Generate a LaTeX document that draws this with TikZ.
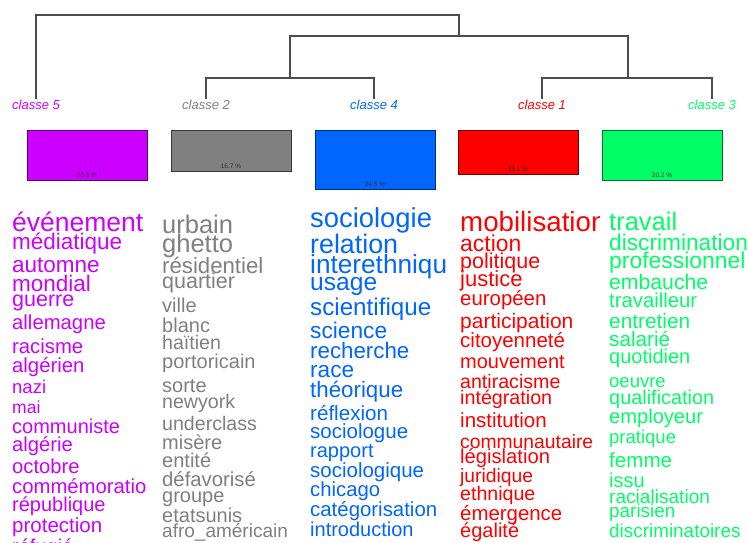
\documentclass[tikz,border=0pt]{standalone}
\usepackage{fontspec}
\setmainfont{Liberation Sans}
\usetikzlibrary{positioning}
\definecolor{cl5}{HTML}{CC00FF}
\definecolor{cl2}{HTML}{808080}
\definecolor{cl4}{HTML}{0066FF}
\definecolor{cl1}{HTML}{FF0000}
\definecolor{cl3}{HTML}{00FF66}

\begin{document}
\begin{tikzpicture}[x=1pt,y=-1pt,
  dendro/.style={draw=black!70,line width=1.3pt},
  lab/.style={font=\fontsize{13}{13}\selectfont\itshape,inner sep=1pt,anchor=north},
  clbox/.style={draw,line width=1pt,minimum width=120pt,anchor=north,inner sep=0pt},
  pct/.style={font=\fontsize{6.5}{7}\selectfont,text=black!80,inner sep=0pt},
  word/.style={anchor=base west,inner sep=0pt},
  node distance=2pt]
\useasboundingbox (0,0) rectangle (748,543);
\clip (0,0) rectangle (748,543);
\fill[white] (0,0) rectangle (748,543);
% class labels and dendrogram
\node[lab,text=cl5] (c5) at (36,99) {classe 5};
\node[lab,text=cl2] (c2) at (206,99) {classe 2};
\node[lab,text=cl4] (c4) at (374,99) {classe 4};
\node[lab,text=cl1] (c1) at (542,99) {classe 1};
\node[lab,text=cl3] (c3) at (712,99) {classe 3};
\coordinate (j24) at (290,78);
\coordinate (j13) at (628,78);
\coordinate (j2413) at (459,36);
\coordinate (jtop) at (247,15);
\draw[dendro] (c2.north) |- (j24) -| (c4.north);
\draw[dendro] (c1.north) |- (j13) -| (c3.north);
\draw[dendro] (j24) |- (j2413) -| (j13);
\draw[dendro] (c5.north) |- (jtop) -| (j2413);
% class size boxes
\node[clbox,fill=cl5,draw=cl5!45!black,minimum height=50pt] (b5) at (87,130) {};
\node[clbox,fill=cl2,draw=cl2!45!black,minimum height=41pt] (b2) at (231,130) {};
\node[clbox,fill=cl4,draw=cl4!45!black,minimum height=59pt] (b4) at (375,130) {};
\node[clbox,fill=cl1,draw=cl1!45!black,minimum height=44pt] (b1) at (518,130) {};
\node[clbox,fill=cl3,draw=cl3!45!black,minimum height=50pt] (b3) at (662,130) {};
\node[pct,above=3pt of b5.south] (p5) {20.6 \%};
\node[pct,above=3pt of b2.south] (p2) {16.7 \%};
\node[pct,above=3pt of b4.south] (p4) {24.5 \%};
\node[pct,above=3pt of b1.south] (p1) {18.1 \%};
\node[pct,above=3pt of b3.south] (p3) {20.2 \%};
% word lists
\begin{scope}
\clip (0,200) rectangle (145,543);
\foreach \w/\s/\y [count=\i] in {événement/26.5/231,médiatique/22.5/249,automne/22.5/272,
  mondial/22.5/291,guerre/21.5/306,allemagne/20.3/329,racisme/20.3/353,algérien/20.3/372,
  nazi/18.5/393,mai/17.5/413,communiste/20/433,algérie/20.2/451,octobre/20.2/473,
  commémoration/20.3/493,république/20/511,protection/20.5/532,réfugié/20/553}
  \node[word,text=cl5,font=\fontsize{\s}{\s}\selectfont] (w5-\i) at (12,\y) {\w};
\end{scope}
\begin{scope}
\clip (150,200) rectangle (300,543);
\foreach \w/\s/\y [count=\i] in {urbain/25.5/233,ghetto/25.5/252,résidentiel/22.2/273,
  quartier/21.5/288,ville/20/312,blanc/20/332,haïtien/19.6/349,portoricain/20/368,
  sorte/20/392,newyork/19.6/408,underclass/19.6/430,misère/20/449,entité/20/467,
  défavorisé/20.3/486,groupe/20/502,etatsunis/20/522,afro\_américain/19/537}
  \node[word,text=cl2,font=\fontsize{\s}{\s}\selectfont] (w2-\i) at (162,\y) {\w};
\end{scope}
\begin{scope}
\clip (300,200) rectangle (445,543);
\foreach \w/\s/\y [count=\i] in {sociologie/27.4/227,relation/26.8/253,interethnique/26.2/273,
  usage/24.6/290,scientifique/24.2/315,science/22.7/338,recherche/22.3/358,race/22.6/377,
  théorique/22.3/397,réflexion/20.6/420,sociologue/20.5/438,rapport/20/457,
  sociologique/20.5/477,chicago/20.3/496,catégorisation/20.4/516,introduction/20/536}
  \node[word,text=cl4,font=\fontsize{\s}{\s}\selectfont] (w4-\i) at (310,\y) {\w};
\end{scope}
\begin{scope}
\clip (450,200) rectangle (599,543);
\foreach \w/\s/\y [count=\i] in {mobilisation/27.7/231,action/22.9/251,politique/21.5/268,
  justice/22/286,européen/20.4/305,participation/21/328,citoyenneté/20.5/347,
  mouvement/20/368,antiracisme/19.6/388,intégration/19.7/404,institution/20.5/427,
  communautaire/19.3/448,législation/20.2/463,juridique/19.3/482,ethnique/19.6/500,
  émergence/20.4/520,égalité/20/537}
  \node[word,text=cl1,font=\fontsize{\s}{\s}\selectfont] (w1-\i) at (460,\y) {\w};
\end{scope}
\foreach \w/\s/\y [count=\i] in {travail/25.5/230,discrimination/22.7/250,professionnel/22.9/268,
  embauche/21.2/289,travailleur/20.3/307,entretien/20.8/328,salarié/20.7/346,
  quotidien/20/363,oeuvre/18.5/387,qualification/19.9/404,employeur/20.1/423,
  pratique/18.5/443,femme/20.6/467,issu/20/487,racialisation/19.1/503,parisien/18.9/517,
  discriminatoires/18.9/537}
  \node[word,text=cl3,font=\fontsize{\s}{\s}\selectfont] (w3-\i) at (609,\y) {\w};
\end{tikzpicture}
\end{document}
